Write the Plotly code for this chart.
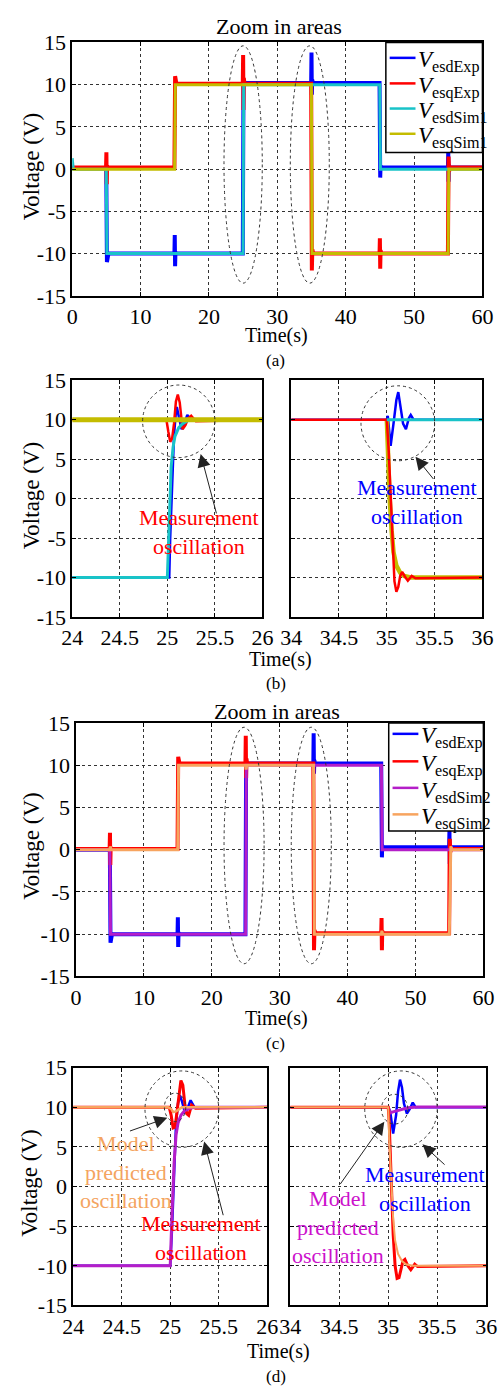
import plotly.graph_objects as go

W, H = 503, 1397
FONT = "Liberation Serif, 'Times New Roman', Times, serif"

# ---------------- tick labels ----------------
Y_TICKS = [-15, -10, -5, 0, 5, 10, 15]
Y_TICK_TEXT = ["-15", "-10", "-5", "0", "5", "10", "15"]
X_TICKS_FULL = [0, 10, 20, 30, 40, 50, 60]
X_TICK_TEXT_FULL = ["0", "10", "20", "30", "40", "50", "60"]
X_TICKS_Z1 = [24, 24.5, 25, 25.5, 26]
X_TICK_TEXT_Z1 = ["24", "24.5", "25", "25.5", "26"]
X_TICKS_Z2 = [34, 34.5, 35, 35.5, 36]
X_TICK_TEXT_Z2 = ["34", "34.5", "35", "35.5", "36"]

# ---------------- panel (a): full record, Sim1 ----------------
A_T_DEXP = [0, 4.98, 5.08, 5.15, 5.3, 14.95, 15.0, 15.05, 15.1, 15.2, 24.95, 25.05, 25.2, 34.95, 35.0, 35.05,
            35.1, 35.2, 44.95, 45.05, 45.1, 45.2, 54.95, 55.0, 55.05, 55.1, 55.2, 60]
A_V_DEXP = [0.1, 0.1, -11.0, -10.1, -10.0, -10.0, -7.8, -11.5, -9.8, -10.0, -10.0, 10.3, 10.2, 10.2, 13.8, 8.8,
            10.6, 10.2, 10.2, -1.0, 0.4, 0.2, 0.2, 2.2, -1.5, 0.5, 0.2, 0.2]
A_T_QEXP = [0, 4.95, 5.0, 5.05, 5.1, 5.2, 14.95, 15.05, 15.12, 15.25, 24.95, 25.0, 25.05, 25.1, 25.2, 34.95,
            35.05, 35.12, 35.25, 44.95, 45.0, 45.05, 45.1, 45.2, 54.95, 55.05, 55.12, 55.25, 60]
A_V_QEXP = [0.2, 0.2, 2.0, -1.8, 0.4, 0.2, 0.2, 11.0, 10.3, 10.1, 10.1, 13.5, 7.0, 10.8, 10.1, 10.1,
            -12.0, -9.5, -10.0, -10.0, -8.2, -11.8, -9.6, -10.0, -10.0, 1.5, -0.3, 0.2, 0.2]
A_T_DSIM1 = [0, 0.05, 0.15, 4.98, 5.08, 24.98, 25.08, 44.98, 45.08, 60]
A_V_DSIM1 = [1.3, 0.5, 0, 0, -10, -10, 10, 10, 0, 0]
A_T_QSIM1 = [0, 14.98, 15.08, 34.98, 35.08, 54.98, 55.08, 60]
A_V_QSIM1 = [0, 0, 10, 10, -10, -10, 0, 0]

# ---------------- panel (c): full record, Sim2 ----------------
C_T_DEXP = [0, 4.98, 5.08, 5.15, 5.3, 14.95, 15.0, 15.05, 15.1, 15.2, 24.95, 25.05, 25.2, 34.95, 35.0, 35.05,
            35.1, 35.2, 44.95, 45.05, 45.1, 45.2, 54.95, 55.0, 55.05, 55.1, 55.2, 60]
C_V_DEXP = [0.0, 0.0, -11.0, -10.1, -10.0, -10.0, -8.0, -11.5, -9.8, -10.0, -10.0, 10.2, 10.2, 10.2, 13.8, 9.0,
            10.6, 10.2, 10.2, -0.9, 0.5, 0.3, 0.3, 2.3, -1.7, 0.5, 0.3, 0.3]
C_T_QEXP = [0, 4.95, 5.0, 5.05, 5.1, 5.2, 14.95, 15.05, 15.12, 15.25, 24.95, 25.0, 25.05, 25.1, 25.2, 34.95,
            35.05, 35.12, 35.25, 44.95, 45.0, 45.05, 45.1, 45.2, 54.95, 55.05, 55.12, 55.25, 60]
C_V_QEXP = [0.1, 0.1, 2.0, -1.8, 0.3, 0.1, 0.1, 11.0, 10.4, 10.2, 10.2, 13.5, 8.5, 10.8, 10.2, 10.2,
            -11.9, -9.5, -9.9, -9.9, -8.1, -11.9, -9.6, -9.9, -9.9, 1.3, -0.3, 0.1, 0.1]
C_T_DSIM2 = [0, 4.98, 5.08, 24.98, 25.08, 44.98, 45.08, 60]
C_V_DSIM2 = [0, 0, -10, -10, 10, 10, 0, 0]
C_T_QSIM2 = [0, 5.0, 5.05, 5.15, 14.98, 15.1, 24.98, 25.05, 25.15, 34.98, 35.1, 44.98, 45.05, 45.15,
             54.98, 55.1, 55.2, 55.4, 60]
C_V_QSIM2 = [0, 0, 0.4, 0, 0, 10, 10, 9.5, 10, 10, -10, -10, -9.6, -10, -10, 0, 0.4, 0, 0]

# ---------------- panel (b): zoom, Sim1 ----------------
B1_T_DEXP = [24, 25.02, 25.03, 25.05, 25.07, 25.09, 25.10, 25.12, 25.15, 25.18, 25.21, 25.25, 26]
B1_V_DEXP = [-10, -10, -5, 3, 8, 11, 11.6, 10.4, 8.8, 9.6, 10.6, 10.0, 10.0]
B1_T_QEXP = [24, 24.99, 25.01, 25.03, 25.05, 25.07, 25.09, 25.11, 25.13, 25.16, 25.19, 25.22, 25.25, 25.3, 26]
B1_V_QEXP = [10, 10, 8.5, 7.2, 7.6, 9.5, 12.3, 13.2, 12.2, 8.8, 9.3, 10.2, 10.5, 9.8, 10]
B1_T_DSIM1 = [24, 25.0, 25.02, 25.04, 25.06, 25.08, 25.12, 25.16, 25.22, 25.3, 26]
B1_V_DSIM1 = [-10, -10, -3, 4, 6.5, 7.9, 9.0, 9.5, 9.9, 10, 10]
B1_T_QSIM1 = [24, 26]
B1_V_QSIM1 = [10, 10]

B2_T_DEXP = [34, 35.0, 35.01, 35.04, 35.07, 35.10, 35.12, 35.14, 35.17, 35.20, 35.23, 35.25, 35.28, 36]
B2_V_DEXP = [10, 10, 10.5, 6.7, 9.5, 12.5, 13.5, 12.0, 9.5, 8.8, 10.2, 10.6, 10.0, 10.0]
B2_T_QEXP = [34, 35.0, 35.02, 35.04, 35.06, 35.08, 35.10, 35.12, 35.14, 35.16, 35.19, 35.22, 35.26, 35.3, 36]
B2_V_QEXP = [10, 10, 6, 0, -6, -10.5, -11.8, -11.2, -9.8, -9.3, -9.9, -10.4, -9.8, -10.1, -10]
B2_T_DSIM1 = [35.0, 36]
B2_V_DSIM1 = [10, 10]
B2_T_QSIM1 = [35.0, 35.01, 35.03, 35.05, 35.07, 35.10, 35.14, 35.18, 35.25, 36]
B2_V_QSIM1 = [10, 6, 0, -4, -6.8, -8.5, -9.4, -9.8, -10, -10]

# ---------------- panel (d): zoom, Sim2 ----------------
D1_T_DEXP = [24, 25.0, 25.02, 25.04, 25.06, 25.08, 25.10, 25.12, 25.15, 25.17, 25.21, 25.25, 26]
D1_V_DEXP = [-10, -10, -5, 3, 8, 10.5, 11.5, 10.8, 9.4, 9.6, 10.9, 10.0, 10.0]
D1_T_QEXP = [24, 24.99, 25.01, 25.03, 25.05, 25.07, 25.09, 25.11, 25.13, 25.15, 25.17, 25.19, 25.22, 25.26, 26]
D1_V_QEXP = [10, 10, 9.0, 7.4, 7.5, 9.5, 12.0, 13.4, 12.8, 10.5, 9.2, 9.0, 10.3, 9.9, 10]
D1_T_DSIM2 = [24, 25.0, 25.02, 25.04, 25.06, 25.08, 25.11, 25.15, 25.2, 25.26, 26]
D1_V_DSIM2 = [-10, -10, -3, 3, 6.5, 8, 9, 9.6, 9.9, 10, 10]
D1_T_QSIM2 = [24, 24.98, 25.01, 25.03, 25.06, 25.09, 25.12, 26]
D1_V_QSIM2 = [10, 10, 9.8, 9.4, 9.5, 9.8, 10, 10]

D2_T_DEXP = [34, 35.0, 35.02, 35.05, 35.08, 35.10, 35.12, 35.14, 35.16, 35.19, 35.22, 35.25, 35.28, 36]
D2_V_DEXP = [10, 10, 9.5, 6.7, 9, 12, 13.5, 12.5, 10.5, 9.2, 9.8, 10.6, 10, 10]
D2_T_QEXP = [34, 35.0, 35.01, 35.03, 35.05, 35.07, 35.09, 35.11, 35.13, 35.15, 35.17, 35.2, 35.23, 35.27, 35.3, 36]
D2_V_QEXP = [10, 10, 8, 0, -6, -10, -11.6, -11.5, -10.2, -9.4, -9.2, -10.0, -10.5, -9.8, -10.1, -10]
D2_T_DSIM2 = [35.0, 35.02, 35.04, 35.07, 35.1, 35.15, 35.2, 35.3, 36]
D2_V_DSIM2 = [10, 9.3, 9.4, 9.5, 9.6, 9.8, 9.95, 10.05, 10.05]
D2_T_QSIM2 = [34, 35.0, 35.01, 35.03, 35.05, 35.07, 35.10, 35.14, 35.18, 35.25, 36]
D2_V_QSIM2 = [10, 10, 6, 0, -4, -6.8, -8.5, -9.4, -9.8, -10, -10]

# ---------------- styles ----------------
BLUE, RED = "#0000ff", "#ff0000"
CYAN, OLIVE = "#18c3c8", "#c4bc00"
PURPLE, ORANGE = "#b41ec8", "#f7a45f"
TXT_ORANGE, TXT_MAG = "#f4a460", "#cc11cc"


def px(x):
    return x / W


def py(y):
    return 1 - y / H


fig = go.Figure()


def add(t, v, color, width, xa, ya, name):
    fig.add_trace(go.Scatter(x=t, y=v, mode="lines", line=dict(color=color, width=width),
                             xaxis=xa, yaxis=ya, name=name, showlegend=False, hoverinfo="skip"))


# (a)
add(A_T_DEXP, A_V_DEXP, BLUE, 4, "x", "y", "VesdExp")
add(A_T_QEXP, A_V_QEXP, RED, 4, "x", "y", "VesqExp")
add(A_T_DSIM1, A_V_DSIM1, CYAN, 3, "x", "y", "VesdSim1")
add(A_T_QSIM1, A_V_QSIM1, OLIVE, 3, "x", "y", "VesqSim1")
# (b)
add(B1_T_DEXP, B1_V_DEXP, BLUE, 2.5, "x2", "y2", "VesdExp")
add(B1_T_QEXP, B1_V_QEXP, RED, 2.5, "x2", "y2", "VesqExp")
add(B1_T_DSIM1, B1_V_DSIM1, CYAN, 3, "x2", "y2", "VesdSim1")
add(B1_T_QSIM1, B1_V_QSIM1, OLIVE, 5, "x2", "y2", "VesqSim1")
add(B2_T_DEXP, B2_V_DEXP, BLUE, 2.5, "x3", "y3", "VesdExp")
add(B2_T_QSIM1, B2_V_QSIM1, OLIVE, 4.5, "x3", "y3", "VesqSim1")
add(B2_T_QEXP, B2_V_QEXP, RED, 2.5, "x3", "y3", "VesqExp")
add(B2_T_DSIM1, B2_V_DSIM1, CYAN, 3, "x3", "y3", "VesdSim1")
# (c)
add(C_T_DEXP, C_V_DEXP, BLUE, 4, "x4", "y4", "VesdExp")
add(C_T_QEXP, C_V_QEXP, RED, 4, "x4", "y4", "VesqExp")
add(C_T_DSIM2, C_V_DSIM2, PURPLE, 3, "x4", "y4", "VesdSim2")
add(C_T_QSIM2, C_V_QSIM2, ORANGE, 3, "x4", "y4", "VesqSim2")
# (d)
add(D1_T_DEXP, D1_V_DEXP, BLUE, 2.5, "x5", "y5", "VesdExp")
add(D1_T_QEXP, D1_V_QEXP, RED, 3, "x5", "y5", "VesqExp")
add(D1_T_DSIM2, D1_V_DSIM2, PURPLE, 3, "x5", "y5", "VesdSim2")
add(D1_T_QSIM2, D1_V_QSIM2, ORANGE, 2.5, "x5", "y5", "VesqSim2")
add(D2_T_DEXP, D2_V_DEXP, BLUE, 2.5, "x6", "y6", "VesdExp")
add(D2_T_DSIM2, D2_V_DSIM2, PURPLE, 3, "x6", "y6", "VesdSim2")
add(D2_T_QEXP, D2_V_QEXP, RED, 3, "x6", "y6", "VesqExp")
add(D2_T_QSIM2, D2_V_QSIM2, ORANGE, 2, "x6", "y6", "VesqSim2")


def axis(dom, rng, tv, tt, anchor, labels=True):
    return dict(domain=dom, range=rng, tickvals=tv, ticktext=tt, anchor=anchor,
                showticklabels=labels, showline=True, mirror="ticks", linecolor="black", linewidth=1.5,
                showgrid=True, gridcolor="#333333", griddash="dot", gridwidth=1, zeroline=False,
                ticks="inside", ticklen=4, tickcolor="black", tickwidth=1,
                tickfont=dict(family=FONT, size=22, color="black"), fixedrange=True)


A_X = [px(64), px(493)]
A_Y = [py(289), py(31)]
B_Y = [py(616), py(375)]
B1_X = [px(64), px(263)]
B2_X = [px(293), px(493)]
C_X = [px(68), px(494)]
C_Y = [py(982), py(724)]
D_Y = [py(1317), py(1075)]
D1_X = [px(65), px(268)]
D2_X = [px(292), px(497)]

fig.update_layout(
    width=W, height=H, margin=dict(l=0, r=0, t=0, b=0),
    paper_bgcolor="white", plot_bgcolor="white", showlegend=False,
    font=dict(family=FONT, color="black"),
    xaxis=axis(A_X, [0, 60], X_TICKS_FULL, X_TICK_TEXT_FULL, "y"),
    yaxis=axis(A_Y, [-15, 15], Y_TICKS, Y_TICK_TEXT, "x"),
    xaxis2=axis(B1_X, [24, 26], X_TICKS_Z1, X_TICK_TEXT_Z1, "y2"),
    yaxis2=axis(B_Y, [-15, 15], Y_TICKS, Y_TICK_TEXT, "x2"),
    xaxis3=axis(B2_X, [34, 36], X_TICKS_Z2, X_TICK_TEXT_Z2, "y3"),
    yaxis3=axis(B_Y, [-15, 15], Y_TICKS, Y_TICK_TEXT, "x3", labels=False),
    xaxis4=axis(C_X, [0, 60], X_TICKS_FULL, X_TICK_TEXT_FULL, "y4"),
    yaxis4=axis(C_Y, [-15, 15], Y_TICKS, Y_TICK_TEXT, "x4"),
    xaxis5=axis(D1_X, [24, 26], X_TICKS_Z1, X_TICK_TEXT_Z1, "y5"),
    yaxis5=axis(D_Y, [-15, 15], Y_TICKS, Y_TICK_TEXT, "x5"),
    xaxis6=axis(D2_X, [34, 36], X_TICKS_Z2, X_TICK_TEXT_Z2, "y6"),
    yaxis6=axis(D_Y, [-15, 15], Y_TICKS, Y_TICK_TEXT, "x6", labels=False),
)

shapes = []
annos = []


def ellipse(xr, yr, x0, x1, y0, y1):
    shapes.append(dict(type="circle", xref=xr, yref=yr, x0=x0, x1=x1, y0=y0, y1=y1,
                       line=dict(color="#333333", width=1, dash="dot"), layer="above"))


ellipse("x", "y", 22.2, 27.8, -13.5, 14.6)
ellipse("x", "y", 31.9, 37.6, -13.5, 14.6)
ellipse("x4", "y4", 21.8, 27.7, -13.5, 14.5)
ellipse("x4", "y4", 31.7, 37.6, -13.5, 14.5)
ellipse("x2", "y2", 24.74, 25.50, 5.2, 14.4)
ellipse("x3", "y3", 34.73, 35.50, 4.8, 14.3)
ellipse("x5", "y5", 24.74, 25.50, 4.96, 14.6)
ellipse("x5", "y5", 24.94, 25.16, 8.2, 11.8)
ellipse("x6", "y6", 34.76, 35.50, 4.96, 14.6)
ellipse("x6", "y6", 34.93, 35.20, 7.9, 11.65)


def arrow(xr, yr, hx, hy, tx, ty):
    annos.append(dict(xref=xr, yref=yr, axref=xr, ayref=yr, x=hx, y=hy, ax=tx, ay=ty, text="",
                      showarrow=True, arrowhead=2, arrowsize=2.6, arrowwidth=1, arrowcolor="#222222"))


arrow("x2", "y2", 25.35, 5.66, 25.52, -2.06)
arrow("x3", "y3", 35.30, 5.3, 35.50, 2.3)
arrow("x5", "y5", 24.97, 8.68, 24.57, 6.95)
arrow("x5", "y5", 25.35, 5.7, 25.55, -3.8)
arrow("x6", "y6", 34.96, 8.2, 34.50, 0.13)
arrow("x6", "y6", 35.35, 5.33, 35.59, 2.6)


def dtext(xr, yr, x, y, text, color, size=22):
    annos.append(dict(xref=xr, yref=yr, x=x, y=y, text=text, showarrow=False, xanchor="center",
                      yanchor="middle", font=dict(family=FONT, size=size, color=color)))


dtext("x2", "y2", 25.33, -4.24, "Measurement<br>oscillation", RED)
dtext("x3", "y3", 35.32, -0.38, "Measurement<br>oscillation", BLUE)
dtext("x5", "y5", 24.54, 1.87, "Model<br>predicted<br>oscillation", TXT_ORANGE)
dtext("x5", "y5", 25.32, -6.44, "Measurement<br>oscillation", RED)
dtext("x6", "y6", 35.37, -0.30, "Measurement<br>oscillation", BLUE)
dtext("x6", "y6", 34.49, -5.07, "Model<br>predicted<br>oscillation", TXT_MAG)


def ptext(x, y, text, size, angle=0):
    annos.append(dict(xref="paper", yref="paper", x=px(x), y=py(y), text=text, showarrow=False,
                      xanchor="center", yanchor="middle", textangle=angle, borderpad=0,
                      font=dict(family=FONT, size=size, color="black")))


ptext(280, 15, "Zoom in areas", 22)
ptext(21, 157, "Voltage (V)", 23, -90)
ptext(278, 329, "Time(s)", 20)
ptext(277, 355, "(a)", 17)
ptext(21, 492, "Voltage (V)", 23, -90)
ptext(282, 659, "Time(s)", 20)
ptext(277, 684, "(b)", 17)
ptext(278, 712, "Zoom in areas", 22)
ptext(22, 849, "Voltage (V)", 23, -90)
ptext(278, 1025, "Time(s)", 20)
ptext(277, 1050, "(c)", 17)
ptext(20, 1192, "Voltage (V)", 23, -90)
ptext(280, 1364, "Time(s)", 20)
ptext(277, 1389, "(d)", 17)


def legend(box, ys, names, colors):
    x0, x1, y0, y1 = box
    shapes.append(dict(type="rect", xref="paper", yref="paper", x0=px(x0), x1=px(x1), y0=py(y1), y1=py(y0),
                       line=dict(color="black", width=1.5), fillcolor="white", layer="above"))
    for yy, nm, col in zip(ys, names, colors):
        shapes.append(dict(type="line", xref="paper", yref="paper", x0=px(x0 + 4), x1=px(x0 + 31),
                           y0=py(yy), y1=py(yy), line=dict(color=col, width=2.5), layer="above"))
        annos.append(dict(xref="paper", yref="paper", x=px(x0 + 32), y=py(yy + 4), xanchor="left",
                          yanchor="middle", showarrow=False, text="<i>V</i><sub>%s</sub>" % nm,
                          font=dict(family=FONT, size=23, color="black")))


legend((392, 493, 31, 143), [46.7, 72.7, 98.3, 124], ["esdExp", "esqExp", "esdSim1", "esqSim1"],
       [BLUE, RED, CYAN, OLIVE])
legend((395, 494, 724, 834), [735, 763, 790, 817], ["esdExp", "esqExp", "esdSim2", "esqSim2"],
       [BLUE, RED, PURPLE, ORANGE])

fig.update_layout(shapes=shapes, annotations=annos)
fig.write_html("out.html")
